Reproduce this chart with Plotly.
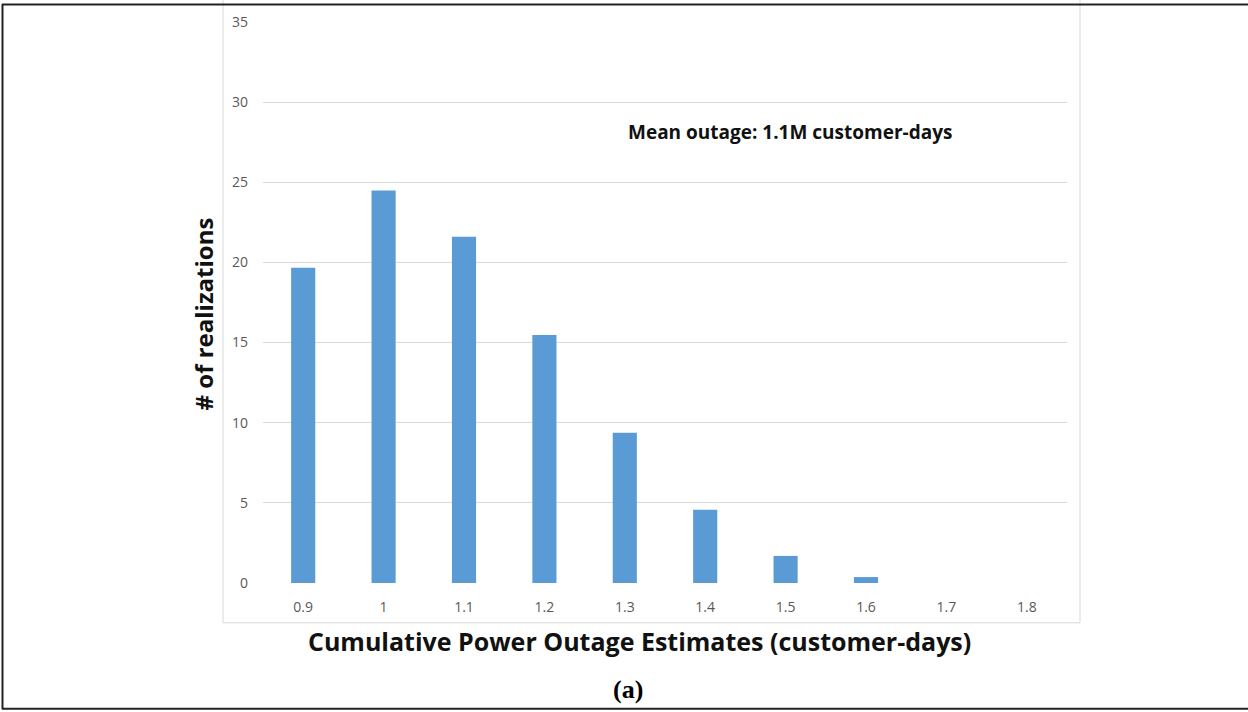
import plotly.graph_objects as go

categories = ["0.9", "1", "1.1", "1.2", "1.3", "1.4", "1.5", "1.6", "1.7", "1.8"]
counts = [19.67, 24.48, 21.6, 15.48, 9.38, 4.57, 1.69, 0.37, 0, 0]
y_ticks = [0, 5, 10, 15, 20, 25, 30, 35]

W, H = 1248, 712
L, R, T, B = 263, 181, 19, 129
PW, PH = W - L - R, H - T - B


def px(x):
    return (x - L) / PW


def py(y):
    return (H - B - y) / PH


fig = go.Figure(go.Bar(
    x=categories, y=counts, marker=dict(color="#5b9bd5", line=dict(width=0)),
    hoverinfo="skip",
))

tick_font = "'Open Sans', Lato, sans-serif"
title_font = "'Open Sans', Lato, sans-serif"
fig.update_layout(
    width=W, height=H,
    margin=dict(l=L, r=R, t=T, b=B),
    paper_bgcolor="white", plot_bgcolor="white",
    bargap=0.70, showlegend=False,
    font=dict(family=tick_font, color="#595959", size=14),
    xaxis=dict(
        type="category", showgrid=False, showline=False, zeroline=False,
        ticks="", ticklabelstandoff=14,
        tickfont=dict(size=14, color="#595959", family=tick_font),
    ),
    yaxis=dict(
        range=[0, 35], tickvals=y_ticks, showgrid=True, gridcolor="#d9d9d9",
        gridwidth=1, zeroline=False, showline=False, ticks="",
        ticklabelstandoff=14,
        tickfont=dict(size=14, color="#595959", family=tick_font),
    ),
    shapes=[
        # inner chart frame
        dict(type="rect", xref="paper", yref="paper",
             x0=px(223), x1=px(1080), y0=py(623), y1=py(-5),
             line=dict(color="#d9d9d9", width=1), layer="below"),
        # outer frame (top, left, bottom)
        dict(type="line", xref="paper", yref="paper",
             x0=px(2), x1=px(1250), y0=py(1.5), y1=py(1.5),
             line=dict(color="#222222", width=2)),
        dict(type="line", xref="paper", yref="paper",
             x0=px(2.5), x1=px(2.5), y0=py(1), y1=py(710),
             line=dict(color="#222222", width=2)),
        dict(type="line", xref="paper", yref="paper",
             x0=px(2), x1=px(1250), y0=py(709.5), y1=py(709.5),
             line=dict(color="#222222", width=2)),
    ],
    annotations=[
        dict(text="<b>Cumulative Power Outage Estimates (customer-days)</b>",
             xref="paper", yref="paper", x=px(639), y=py(641),
             xanchor="center", yanchor="middle", showarrow=False,
             font=dict(size=25, color="#111111", family=title_font)),
        dict(text="<b># of realizations</b>",
             xref="paper", yref="paper", x=px(203), y=py(313),
             xanchor="center", yanchor="middle", showarrow=False, textangle=-90,
             font=dict(size=24, color="#111111", family=title_font)),
        dict(text="<b>Mean outage: 1.1M customer-days</b>",
             xref="paper", yref="paper", x=px(790), y=py(130),
             xanchor="center", yanchor="middle", showarrow=False,
             font=dict(size=19, color="#111111", family=title_font)),
        dict(text="<b>(a)</b>",
             xref="paper", yref="paper", x=px(628), y=py(690),
             xanchor="center", yanchor="middle", showarrow=False,
             font=dict(size=26, color="#000000",
                       family="'Liberation Serif', 'Times New Roman', serif")),
    ],
)

fig.write_html(
    "out.html",
    config={"displayModeBar": False},
    post_script="document.body.style.margin='0';document.body.style.overflow='hidden';",
)
